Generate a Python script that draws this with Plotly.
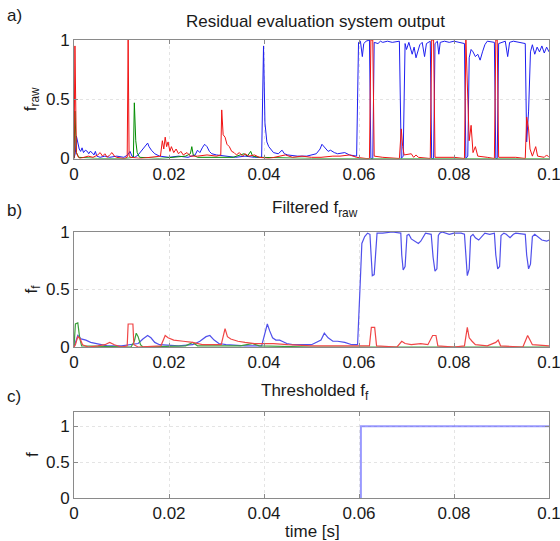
import plotly.graph_objects as go

# ---------------- data ----------------
x_tick_vals = [0, 0.02, 0.04, 0.06, 0.08, 0.1]
x_tick_text = ["0", "0.02", "0.04", "0.06", "0.08", "0.1"]
y_tick_vals = [0, 0.5, 1]
y_tick_text = ["0", "0.5", "1"]

titles = ["Residual evaluation system output", "Filtered f<sub>raw</sub>", "Thresholded f<sub>f</sub>"]
panel_labels = ["a)", "b)", "c)"]
y_labels = ["f<sub>raw</sub>", "f<sub>f</sub>", "f"]
x_label = "time [s]"

# panel a: raw outputs
raw_blue_t = [0.0, 0.0003, 0.0005, 0.0008, 0.0011, 0.0014, 0.0017, 0.002, 0.0024, 0.0028, 0.0031, 0.0034,
              0.0038, 0.0042, 0.0045, 0.0048, 0.0055, 0.0065, 0.0075, 0.009, 0.0105, 0.0113, 0.0118, 0.0122,
              0.0128, 0.0135, 0.0145, 0.015, 0.0155, 0.0158, 0.0163, 0.017, 0.018, 0.02, 0.022, 0.024, 0.0255,
              0.026, 0.0265, 0.027, 0.0275, 0.028, 0.0285, 0.029, 0.03, 0.032, 0.034, 0.036, 0.038, 0.0395,
              0.0399, 0.0402, 0.0406, 0.041, 0.0415, 0.042, 0.043, 0.0438, 0.0443, 0.045, 0.047, 0.049, 0.051,
              0.0518, 0.0522, 0.0528, 0.0535, 0.054, 0.0548, 0.0555, 0.057, 0.058, 0.0595, 0.0599, 0.0603,
              0.0607, 0.061, 0.0615, 0.0622, 0.0625, 0.0629, 0.0632, 0.064, 0.0645, 0.065, 0.066, 0.067, 0.0685,
              0.0689, 0.0693, 0.0697, 0.07, 0.0705, 0.0712, 0.0716, 0.072, 0.0724, 0.0728, 0.0733, 0.0738,
              0.0742, 0.075, 0.0753, 0.0757, 0.076, 0.0765, 0.0768, 0.0771, 0.078, 0.079, 0.08, 0.081, 0.0822,
              0.0825, 0.0829, 0.0832, 0.0836, 0.084, 0.0845, 0.085, 0.0855, 0.086, 0.0865, 0.087, 0.0885,
              0.0888, 0.0891, 0.0894, 0.09, 0.0908, 0.0913, 0.0917, 0.0925, 0.094, 0.095, 0.0953, 0.0957,
              0.0961, 0.0965, 0.097, 0.0975, 0.098, 0.0985, 0.099, 0.0995, 0.1]
raw_blue_y = [0.0, 0.05, 0.19, 0.12, 0.08, 0.06, 0.09, 0.05, 0.07, 0.06, 0.04, 0.06,
              0.05, 0.03, 0.06, 0.02, 0.01, 0.02, 0.01, 0.02, 0.01, 0.03, 0.06, 0.02,
              0.01, 0.03, 0.08, 0.11, 0.13, 0.10, 0.07, 0.04, 0.02, 0.01, 0.02, 0.01, 0.03,
              0.07, 0.05, 0.09, 0.12, 0.10, 0.06, 0.04, 0.03, 0.02, 0.01, 0.02, 0.01, 0.01,
              0.95, 0.30, 0.14, 0.10, 0.07, 0.05, 0.04, 0.07, 0.04, 0.03, 0.02, 0.02, 0.04,
              0.08, 0.12, 0.09, 0.06, 0.07, 0.05, 0.04, 0.05, 0.03, 0.02, 0.98, 0.99,
              0.86, 0.97, 0.99, 1.0, 0.0, 0.0, 0.98, 0.97, 0.99, 0.98, 0.99, 0.98, 0.99,
              0.0, 0.02, 0.97, 0.92, 0.98, 0.88, 0.94, 0.85, 0.90, 0.96, 0.98, 0.86,
              0.97, 0.99, 0.0, 0.0, 0.97, 0.99, 0.88, 0.98, 0.99, 0.98, 0.99, 0.98, 0.97,
              0.0, 0.02, 0.85, 0.92, 0.90, 0.86, 0.88, 0.83, 0.90, 0.96, 0.99, 0.98,
              0.0, 0.0, 0.97, 0.98, 0.99, 0.86, 0.98, 0.99, 0.98, 0.97, 0.14, 0.40,
              0.90, 0.96, 0.88, 0.94, 0.90, 0.95, 0.89, 0.94, 0.90]

raw_red_t = [0.0, 0.0002, 0.0005, 0.0008, 0.0012, 0.002, 0.003, 0.004, 0.005, 0.0055, 0.006, 0.0065, 0.007,
             0.0075, 0.008, 0.0085, 0.009, 0.0105, 0.0112, 0.0114, 0.0116, 0.012, 0.014, 0.016, 0.0182,
             0.0186, 0.0189, 0.0192, 0.0195, 0.0198, 0.0202, 0.0205, 0.021, 0.0215, 0.022, 0.0225, 0.023,
             0.0238, 0.0245, 0.026, 0.028, 0.03, 0.0309, 0.0311, 0.0314, 0.0318, 0.0322, 0.0327, 0.0332,
             0.0337, 0.0342, 0.0348, 0.0355, 0.036, 0.0368, 0.038, 0.039, 0.041, 0.043, 0.0445, 0.046, 0.048,
             0.05, 0.052, 0.0545, 0.056, 0.058, 0.0595, 0.0615, 0.0622, 0.0625, 0.0629, 0.0632, 0.065, 0.0685,
             0.0689, 0.0692, 0.0695, 0.071, 0.0715, 0.072, 0.0725, 0.075, 0.0753, 0.0757, 0.076, 0.08, 0.0822,
             0.0825, 0.0829, 0.0832, 0.0836, 0.084, 0.0845, 0.085, 0.087, 0.0885, 0.0888, 0.0891, 0.0894,
             0.093, 0.095, 0.0953, 0.0957, 0.096, 0.0965, 0.0972, 0.0976, 0.099, 0.0995, 0.1]
raw_red_y = [0.0, 0.95, 0.05, 0.02, 0.0, 0.01, 0.02, 0.01, 0.03, 0.05, 0.02, 0.04, 0.01,
             0.03, 0.05, 0.02, 0.01, 0.0, 0.01, 1.0, 0.02, 0.01, 0.0, 0.01, 0.02,
             0.15, 0.08, 0.18, 0.10, 0.14, 0.06, 0.10, 0.05, 0.08, 0.04, 0.06, 0.03,
             0.05, 0.02, 0.02, 0.03, 0.02, 0.03, 0.41, 0.20, 0.18, 0.12, 0.10, 0.06,
             0.05, 0.03, 0.05, 0.02, 0.04, 0.02, 0.03, 0.01, 0.0, 0.02, 0.03, 0.01, 0.02,
             0.01, 0.01, 0.02, 0.02, 0.03, 0.01, 0.0, 0.0, 1.0, 1.0, 0.02, 0.01, 0.0,
             0.25, 0.10, 0.03, 0.04, 0.01, 0.03, 0.01, 0.0, 1.0, 1.0, 0.01, 0.01, 0.0,
             1.0, 0.6, 0.15, 0.28, 0.05, 0.10, 0.02, 0.01, 0.0, 1.0, 1.0, 0.01,
             0.01, 0.0, 0.35, 0.25, 0.08, 0.02, 0.10, 0.02, 0.01, 0.03, 0.01]

raw_green_t = [0.0, 0.0002, 0.0005, 0.001, 0.005, 0.011, 0.0125, 0.0127, 0.013, 0.0133, 0.0138, 0.018,
               0.0235, 0.0245, 0.0248, 0.0251, 0.026, 0.0335, 0.035, 0.0358, 0.0365, 0.0372, 0.0376, 0.039,
               0.05, 0.1]
raw_green_y = [0.0, 0.40, 0.05, 0.01, 0.0, 0.0, 0.01, 0.47, 0.15, 0.05, 0.01, 0.0,
               0.02, 0.04, 0.10, 0.03, 0.01, 0.01, 0.03, 0.04, 0.02, 0.06, 0.02, 0.01,
               0.0, 0.0]

# panel b: filtered outputs
filt_blue_t = [0.0, 0.0004, 0.0008, 0.0015, 0.0025, 0.0035, 0.0045, 0.0055, 0.007, 0.01, 0.012, 0.0135,
               0.0145, 0.0155, 0.0162, 0.017, 0.018, 0.022, 0.025, 0.0265, 0.0278, 0.0286, 0.0295, 0.0305,
               0.032, 0.036, 0.0395, 0.0402, 0.0407, 0.0412, 0.0418, 0.0425, 0.0433, 0.0438, 0.0448, 0.046,
               0.05, 0.052, 0.0527, 0.0535, 0.0545, 0.0555, 0.057, 0.0585, 0.0597, 0.0602, 0.0606, 0.0612,
               0.0618, 0.0623, 0.0626, 0.0628, 0.0632, 0.0635, 0.0638, 0.065, 0.067, 0.0688, 0.069, 0.0693,
               0.0697, 0.0701, 0.0705, 0.071, 0.0718, 0.0725, 0.073, 0.0736, 0.074, 0.0752, 0.0756, 0.076,
               0.0764, 0.0767, 0.077, 0.0775, 0.079, 0.08, 0.0815, 0.0822, 0.0825, 0.0828, 0.0832, 0.0835,
               0.084, 0.0845, 0.0852, 0.0858, 0.0865, 0.0875, 0.0885, 0.0888, 0.0892, 0.0896, 0.0899, 0.0905,
               0.091, 0.0918, 0.0925, 0.093, 0.095, 0.0953, 0.0957, 0.0961, 0.0965, 0.097, 0.0978, 0.0985,
               0.0995, 0.1]
filt_blue_y = [0.0, 0.06, 0.10, 0.07, 0.06, 0.04, 0.03, 0.02, 0.01, 0.01, 0.02, 0.03,
               0.07, 0.10, 0.08, 0.04, 0.02, 0.01, 0.02, 0.05, 0.09, 0.10, 0.06, 0.03,
               0.02, 0.01, 0.01, 0.12, 0.20, 0.14, 0.08, 0.06, 0.06, 0.05, 0.03, 0.02,
               0.02, 0.06, 0.12, 0.08, 0.05, 0.05, 0.04, 0.02, 0.02, 0.50, 0.90, 0.96,
               0.99, 0.98, 0.70, 0.62, 0.63, 0.85, 0.99, 0.99, 1.0, 0.99, 0.80, 0.67,
               0.70, 0.97, 0.98, 0.94, 0.92, 0.90, 0.92, 0.96, 0.99, 0.98, 0.78, 0.66,
               0.68, 0.97, 0.99, 1.0, 0.98, 0.99, 0.99, 0.98, 0.75, 0.62, 0.68, 0.96,
               0.98, 0.95, 0.93, 0.96, 0.99, 0.98, 0.99, 0.80, 0.68, 0.70, 0.97, 0.99,
               0.98, 0.95, 0.98, 0.99, 0.98, 0.80, 0.68, 0.72, 0.96, 0.98, 0.95, 0.93,
               0.92, 0.93]

filt_red_t = [0.0, 0.0003, 0.0008, 0.0013, 0.0018, 0.003, 0.005, 0.0065, 0.0075, 0.0085, 0.01, 0.0112,
              0.0114, 0.0124, 0.0126, 0.0135, 0.0183, 0.0192, 0.0198, 0.021, 0.023, 0.025, 0.027, 0.031,
              0.0318, 0.0323, 0.033, 0.0345, 0.036, 0.038, 0.04, 0.042, 0.045, 0.05, 0.06, 0.0622, 0.0626,
              0.0633, 0.0637, 0.068, 0.069, 0.0697, 0.071, 0.073, 0.0745, 0.0755, 0.0762, 0.0766, 0.08,
              0.0822, 0.0828, 0.0832, 0.0838, 0.0845, 0.087, 0.0888, 0.0893, 0.0898, 0.0945, 0.0955, 0.096,
              0.0965, 0.1]
filt_red_y = [0.0, 0.02, 0.09, 0.07, 0.02, 0.0, 0.01, 0.02, 0.04, 0.02, 0.0, 0.01,
              0.20, 0.20, 0.02, 0.0, 0.01, 0.10, 0.08, 0.06, 0.05, 0.04, 0.02, 0.02,
              0.16, 0.09, 0.07, 0.05, 0.04, 0.03, 0.03, 0.03, 0.02, 0.01, 0.01, 0.01, 0.17,
              0.17, 0.01, 0.0, 0.05, 0.03, 0.02, 0.03, 0.02, 0.10, 0.10, 0.01, 0.0,
              0.01, 0.17, 0.08, 0.05, 0.02, 0.01, 0.04, 0.06, 0.01, 0.0, 0.10, 0.06,
              0.02, 0.01]

filt_green_t = [0.0, 0.0003, 0.0008, 0.0012, 0.0016, 0.012, 0.0127, 0.0131, 0.0135, 0.014, 0.0145,
                0.0235, 0.025, 0.026, 0.035, 0.0375, 0.039, 0.05, 0.1]
filt_green_y = [0.0, 0.20, 0.21, 0.08, 0.01, 0.0, 0.05, 0.12, 0.09, 0.02, 0.0,
                0.01, 0.04, 0.01, 0.01, 0.03, 0.01, 0.0, 0.0]

# panel c: thresholded output (visible part: step at ~0.0604)
thr_t = [0.0604, 0.0604, 0.1]
thr_y = [0, 1, 1]

# ---------------- figure ----------------
W, H = 560, 541
FONT = "Liberation Sans, Arial, Helvetica, sans-serif"
BLUE, RED, GREEN = "rgb(30,30,240)", "rgb(240,20,20)", "rgb(0,140,0)"


def px_x(p):
    return p / W


def px_y(p):
    return 1 - p / H


x_dom = [px_x(74), px_x(549)]
panels = [(40, 158.5), (232, 347), (412, 498)]  # top, bottom in pixels
y_ranges = [[0, 1], [0, 1], [0, 1.2]]
title_y = [21, 209, 392]
label_y = [15, 210, 396]

fig = go.Figure()
fig.add_trace(go.Scatter(x=raw_blue_t, y=raw_blue_y, mode="lines", line=dict(color=BLUE, width=1), xaxis="x", yaxis="y"))
fig.add_trace(go.Scatter(x=raw_green_t, y=raw_green_y, mode="lines", line=dict(color=GREEN, width=1), xaxis="x", yaxis="y"))
fig.add_trace(go.Scatter(x=raw_red_t, y=raw_red_y, mode="lines", line=dict(color=RED, width=1), xaxis="x", yaxis="y"))

fig.add_trace(go.Scatter(x=filt_blue_t, y=filt_blue_y, mode="lines", line=dict(color="rgb(80,80,235)", width=1.2), xaxis="x2", yaxis="y2"))
fig.add_trace(go.Scatter(x=filt_green_t, y=filt_green_y, mode="lines", line=dict(color="rgb(60,160,60)", width=1.2), xaxis="x2", yaxis="y2"))
fig.add_trace(go.Scatter(x=filt_red_t, y=filt_red_y, mode="lines", line=dict(color="rgb(240,70,70)", width=1.2), xaxis="x2", yaxis="y2"))

fig.add_trace(go.Scatter(x=thr_t, y=thr_y, mode="lines", line=dict(color="rgba(70,70,255,0.55)", width=2), xaxis="x3", yaxis="y3"))

axis_common = dict(
    automargin=False, ticklabeloverflow="allow",
    showline=True, linecolor="#8a8a8a", linewidth=1, mirror="ticks",
    ticks="inside", ticklen=4, tickcolor="#8a8a8a",
    showgrid=True, gridcolor="#e4e4e4", griddash="dot", gridwidth=1,
    zeroline=False, tickfont=dict(family=FONT, size=17, color="#1a1a1a"),
)

layout = dict(
    width=W, height=H, margin=dict(l=0, r=0, t=0, b=0, autoexpand=False),
    paper_bgcolor="white", plot_bgcolor="white", showlegend=False,
    font=dict(family=FONT, size=17, color="#1a1a1a"),
)
annotations = []
for i, (top, bot) in enumerate(panels):
    sfx = "" if i == 0 else str(i + 1)
    layout["xaxis" + sfx] = dict(axis_common, domain=x_dom, range=[0, 0.1], tickvals=x_tick_vals,
                                 ticktext=x_tick_text, anchor="y" + sfx)
    layout["yaxis" + sfx] = dict(axis_common, domain=[px_y(bot), px_y(top)], range=y_ranges[i],
                                 tickvals=y_tick_vals, ticktext=y_tick_text, anchor="x" + sfx)
    cy = (top + bot) / 2
    annotations.append(dict(text=y_labels[i], x=px_x(32), y=px_y(cy), xref="paper", yref="paper",
                            textangle=-90, showarrow=False, xanchor="center", yanchor="middle",
                            font=dict(family=FONT, size=17)))
    annotations.append(dict(text=titles[i], x=px_x(315), y=px_y(title_y[i]), xref="paper", yref="paper",
                            showarrow=False, xanchor="center", yanchor="middle",
                            font=dict(family=FONT, size=17)))
    annotations.append(dict(text=panel_labels[i], x=px_x(5), y=px_y(label_y[i]), xref="paper", yref="paper",
                            showarrow=False, xanchor="left", yanchor="middle",
                            font=dict(family=FONT, size=17)))

annotations.append(dict(text=x_label, x=px_x(312), y=px_y(531), xref="paper", yref="paper",
                        showarrow=False, xanchor="center", yanchor="middle", font=dict(family=FONT, size=17)))
layout["annotations"] = annotations
fig.update_layout(**layout)

fig.write_html("out.html", config={"displayModeBar": False},
               post_script="document.body.style.margin='0';document.body.style.overflow='hidden';")
